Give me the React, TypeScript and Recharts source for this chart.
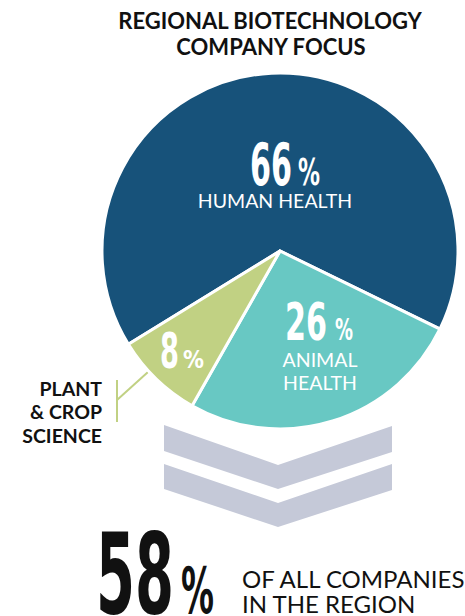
import React from 'react';
import { PieChart, Pie, Cell } from 'recharts';

const categories = ['HUMAN HEALTH', 'ANIMAL HEALTH', 'PLANT & CROP SCIENCE'];
const shares = [66, 26, 8];
const sliceColors = ['#17527a', '#68c8c3', '#c1d183'];
const regionShare = 58;

const data = categories.map((name, i) => ({ name, value: shares[i] }));

const W = 465;
const H = 616;
const CX = 275;
const CY = 246;
const R = 178;

const sans = 'Lato, "Open Sans", sans-serif';
const bigFont = '"DejaVu Sans", sans-serif';

// label layout per slice, offsets from pie centre
const labelLayout = [
  { nx: -30, ny: -66, nSize: 58, nLen: 42, px: 18, pSize: 37, pLen: 22, lines: ['HUMAN HEALTH'], lx: -5, ly: [-43], lSize: 19.5 },
  { nx: 5, ny: 89, nSize: 52, nLen: 42, px: 55, pSize: 31, pLen: 18, lines: ['ANIMAL', 'HEALTH'], lx: 40, ly: [116, 139], lSize: 19.5 },
  { nx: -120, ny: 117, nSize: 49, nLen: 19, px: -97, pSize: 25, pLen: 21, lines: [], lx: 0, ly: [], lSize: 18 },
];

function BigNum({ x, y, text, size, len, fill }: any) {
  return (
    <text x={x} y={y} fontFamily={bigFont} fontWeight={700} fontSize={size} fill={fill}
      textLength={len} lengthAdjust="spacingAndGlyphs">{text}</text>
  );
}

function renderLabel(props: any) {
  const { cx, cy, index } = props;
  const L = labelLayout[index];
  return (
    <g key={`lab-${index}`}>
      <BigNum x={cx + L.nx} y={cy + L.ny} text={String(shares[index])} size={L.nSize} len={L.nLen} fill="#fff" />
      <BigNum x={cx + L.px} y={cy + L.ny} text="%" size={L.pSize} len={L.pLen} fill="#fff" />
      {L.lines.map((t, j) => (
        <text key={j} x={cx + L.lx} y={cy + L.ly[j]} textAnchor="middle" fontFamily={sans}
          fontSize={L.lSize} fill="#fff">{t}</text>
      ))}
    </g>
  );
}

export default function App() {
  return (
    <div style={{ position: 'absolute', left: 0, top: 0, width: W, height: H, background: '#fff' }}>
      <svg width={W} height={H} style={{ position: 'absolute', left: 0, top: 0 }}>
        <text x={270} y={29} textAnchor="middle" fontFamily={sans} fontWeight={700} fontSize={22} fill="#111">
          REGIONAL BIOTECHNOLOGY
        </text>
        <text x={271} y={55} textAnchor="middle" fontFamily={sans} fontWeight={700} fontSize={22} fill="#111">
          COMPANY FOCUS
        </text>
        <polygon points="164,425 278,465 392,426 392,452 278,489 164,451" fill="#c5c9d8" />
        <polygon points="164,464 278,503 392,464 392,490 278,527 164,489" fill="#c5c9d8" />
        <g fontFamily={sans} fontWeight={700} fontSize={19.5} fill="#111" textAnchor="end">
          <text x={102} y={396}>PLANT</text>
          <text x={102} y={419}>&amp; CROP</text>
          <text x={102} y={443}>SCIENCE</text>
        </g>
        <line x1={117} y1={380} x2={117} y2={422} stroke="#c1d183" strokeWidth={2} />
        <line x1={117} y1={400} x2={148} y2={372} stroke="#c1d183" strokeWidth={2} />
        <BigNum x={96} y={613} text={String(regionShare)} size={112} len={78} fill="#111" />
        <BigNum x={181} y={613} text="%" size={64} len={33} fill="#111" />
        <text x={242} y={588} fontFamily={sans} fontSize={24} fill="#111">OF ALL COMPANIES</text>
        <text x={242} y={613} fontFamily={sans} fontSize={24} fill="#111">IN THE REGION</text>
      </svg>
      <div style={{ position: 'absolute', left: 0, top: 0 }}>
        <PieChart width={W} height={H}>
          <Pie
            data={data}
            dataKey="value"
            nameKey="name"
            cx={CX}
            cy={CY}
            outerRadius={R}
            innerRadius={0}
            startAngle={211.6}
            endAngle={-148.4}
            stroke="#fff"
            strokeWidth={3}
            label={renderLabel}
            labelLine={false}
            isAnimationActive={false}
          >
            {data.map((d, i) => (
              <Cell key={d.name} fill={sliceColors[i]} />
            ))}
          </Pie>
        </PieChart>
      </div>
    </div>
  );
}
